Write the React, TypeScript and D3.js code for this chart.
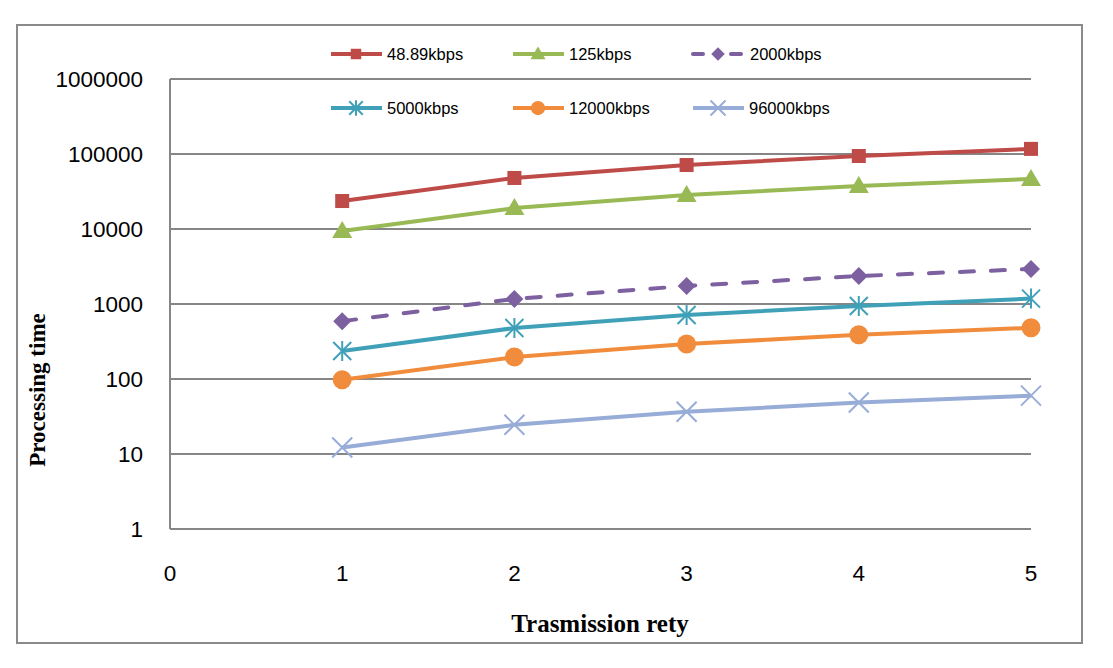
import React from "react";
import * as d3 from "d3";

const retries = [1, 2, 3, 4, 5];
const xTicks = [0, 1, 2, 3, 4, 5];
const yTicks = [1, 10, 100, 1000, 10000, 100000, 1000000];

const s48 = [23600, 47900, 71300, 94000, 117000];
const s125 = [9400, 19000, 28400, 37500, 46500];
const s2000 = [590, 1170, 1740, 2360, 2930];
const s5000 = [236, 478, 713, 940, 1180];
const s12000 = [98, 196, 293, 388, 482];
const s96000 = [12.2, 24.5, 36.5, 48.5, 60];

const seriesNames = ["48.89kbps", "125kbps", "2000kbps", "5000kbps", "12000kbps", "96000kbps"];
const seriesValues = [s48, s125, s2000, s5000, s12000, s96000];
const seriesColors = ["#BE4B48", "#98B954", "#7D60A0", "#3FA0B8", "#F08C3C", "#98ACD8"];
const seriesMarkers = ["square", "triangle", "diamond", "star", "circle", "x"];
const seriesDashed = [false, false, true, false, false, false];

function Marker({ type, x, y, color, s = 1 }: { type: string; x: number; y: number; color: string; s?: number }) {
  if (type === "square") return <rect x={x - 7 * s} y={y - 7 * s} width={14 * s} height={14 * s} fill={color} />;
  if (type === "triangle")
    return <path d={`M${x},${y - 10 * s}L${x + 10 * s},${y + 7 * s}L${x - 10 * s},${y + 7 * s}Z`} fill={color} />;
  if (type === "diamond")
    return <path d={`M${x},${y - 9 * s}L${x + 9 * s},${y}L${x},${y + 9 * s}L${x - 9 * s},${y}Z`} fill={color} />;
  if (type === "circle") return <circle cx={x} cy={y} r={9.5 * s} fill={color} />;
  if (type === "star") {
    const r = 9 * s;
    return (
      <g stroke={color} strokeWidth={2}>
        <line x1={x - r} y1={y - r} x2={x + r} y2={y + r} />
        <line x1={x - r} y1={y + r} x2={x + r} y2={y - r} />
        <line x1={x} y1={y - r - 1} x2={x} y2={y + r + 1} />
      </g>
    );
  }
  const r = 10 * s;
  return (
    <g stroke={color} strokeWidth={2}>
      <line x1={x - r} y1={y - r} x2={x + r} y2={y + r} />
      <line x1={x - r} y1={y + r} x2={x + r} y2={y - r} />
    </g>
  );
}

export default function App() {
  const W = 1113;
  const H = 668;
  const left = 170, right = 1031, top = 79, bottom = 529;
  const x = d3.scaleLinear().domain([0, 5]).range([left, right]);
  const y = d3.scaleLog().domain([1, 1000000]).range([bottom, top]);
  const line = d3
    .line<number>()
    .x((_, i) => x(retries[i]))
    .y((d) => y(d));

  const legendCols = [331, 513, 693];
  const legendRows = [54, 108];

  return (
    <svg width={W} height={H} style={{ position: "absolute", left: 0, top: 0 }}>
      <rect x={0} y={0} width={W} height={H} fill="#fff" />
      <rect x={17} y={25} width={1065} height={618} fill="none" stroke="#8a8a8a" strokeWidth={2} />
      {yTicks.map((t) => (
        <g key={t}>
          <line x1={left} x2={right} y1={y(t)} y2={y(t)} stroke="#868686" strokeWidth={2} />
          <text x={143} y={y(t) + 8} textAnchor="end" fontFamily="Liberation Sans, Arial, sans-serif" fontSize={22.5} fill="#000">
            {t}
          </text>
        </g>
      ))}
      <line x1={left} x2={left} y1={top} y2={bottom} stroke="#868686" strokeWidth={2} />
      {xTicks.map((t) => (
        <text key={t} x={x(t)} y={581} textAnchor="middle" fontFamily="Liberation Sans, Arial, sans-serif" fontSize={22.5} fill="#000">
          {t}
        </text>
      ))}
      {seriesValues.map((vals, si) => (
        <g key={si}>
          <path
            d={line(vals) || ""}
            fill="none"
            stroke={seriesColors[si]}
            strokeWidth={4}
            strokeDasharray={seriesDashed[si] ? "14,17" : undefined}
            strokeLinecap={seriesDashed[si] ? "round" : "butt"}
          />
          {vals.map((v, i) => (
            <Marker key={i} type={seriesMarkers[si]} x={x(retries[i])} y={y(v)} color={seriesColors[si]} />
          ))}
        </g>
      ))}
      {seriesNames.map((name, si) => {
        const lx = legendCols[si % 3];
        const ly = legendRows[Math.floor(si / 3)];
        const dashed = seriesDashed[si];
        return (
          <g key={name}>
            {dashed ? (
              <>
                <line x1={lx + 0} x2={lx + 10} y1={ly} y2={ly} stroke={seriesColors[si]} strokeWidth={4} strokeLinecap="round" />
                <line x1={lx + 38} x2={lx + 48} y1={ly} y2={ly} stroke={seriesColors[si]} strokeWidth={4} strokeLinecap="round" />
              </>
            ) : (
              <line x1={lx} x2={lx + 51} y1={ly} y2={ly} stroke={seriesColors[si]} strokeWidth={4} />
            )}
            <Marker type={seriesMarkers[si]} x={lx + 25} y={ly} color={seriesColors[si]} s={0.75} />
            <text x={lx + (dashed ? 57 : 56)} y={ly + 6} fontFamily="Liberation Sans, Arial, sans-serif" fontSize={16.5} fill="#000">
              {name}
            </text>
          </g>
        );
      })}
      <text
        transform={`translate(45,390) rotate(-90)`}
        textAnchor="middle"
        fontFamily="Liberation Serif, Times New Roman, serif"
        fontWeight="bold"
        fontSize={23}
        fill="#000"
      >
        Processing time
      </text>
      <text x={600} y={632} textAnchor="middle" fontFamily="Liberation Serif, Times New Roman, serif" fontWeight="bold" fontSize={25} fill="#000">
        Trasmission rety
      </text>
    </svg>
  );
}
